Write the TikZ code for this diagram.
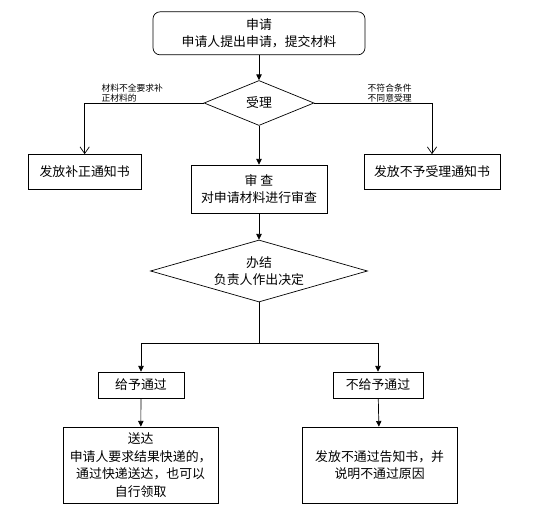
\documentclass[tikz,border=0pt]{standalone}
\usepackage{fontspec}
\setmainfont{Noto Sans CJK SC}
\usetikzlibrary{arrows.meta,shapes.geometric}

\begin{document}
\begin{tikzpicture}[
  font=\fontsize{11}{15}\selectfont,
  line width=0.6pt,
  box/.style={draw, align=center, inner sep=1pt},
  choice/.style={draw, diamond, align=center, inner sep=0pt},
  cond/.style={font=\fontsize{7.5}{8.5}\selectfont, align=left, inner sep=0.6pt},
  arr/.style={-{Triangle[length=1.7mm,width=1.6mm]}},
  openarr/.style={-{Straight Barb[length=2mm,width=2.8mm]}}
]
  \useasboundingbox (0,0) rectangle (16.62,-15.39);

  \draw (7.77,-1.0) node[box, rounded corners=6pt, minimum width=6.36cm, minimum height=1.29cm] (shenqing) {申请\\申请人提出申请，提交材料};
  \draw (7.77,-3.09) node[choice, aspect=2.4, minimum width=3.3cm, minimum height=1.35cm] (shouli) {受理};
  \draw (2.54,-5.16) node[box, minimum width=3.39cm, minimum height=1.05cm] (buzheng) {发放补正通知书};
  \draw (12.96,-5.16) node[box, minimum width=4.08cm, minimum height=1.05cm] (buyu) {发放不予受理通知书};
  \draw (7.77,-5.67) node[box, minimum width=4.08cm, minimum height=1.44cm] (shencha) {审\ 查\\对申请材料进行审查};
  \draw (7.77,-8.13) node[choice, aspect=3.5, minimum width=6.51cm, minimum height=1.86cm] (banjie) {办结\\负责人作出决定};
  \draw (4.23,-11.55) node[box, minimum width=2.58cm, minimum height=0.78cm] (tongguo) {给予通过};
  \draw (11.34,-11.55) node[box, minimum width=2.7cm, minimum height=0.78cm] (butongguo) {不给予通过};
  \draw (4.22,-13.95) node[box, minimum width=4.65cm, minimum height=2.28cm] (songda) {送达\\申请人要求结果快递的，\\通过快递送达，也可以\\自行领取};
  \draw (11.39,-13.95) node[box, minimum width=4.65cm, minimum height=2.28cm] (gaozhi) {发放不通过告知书，并\\说明不通过原因};
  \coordinate (fencha) at (7.77,-10.29);

  \draw[arr] (shenqing) -- (shouli);
  \draw[openarr] (shouli.west) -| node[pos=0.3, above, cond] {材料不全要求补\\正材料的} (buzheng.north);
  \draw[openarr] (shouli.east) -| node[pos=0.32, above, cond] {不符合条件\\不同意受理} (buyu.north);
  \draw[arr] (shouli) -- (shencha);
  \draw[arr] (shencha) -- (banjie);
  \draw (banjie.south) -- (fencha);
  \draw[arr] (fencha) -| (tongguo.north);
  \draw[arr] (fencha) -| (butongguo.north);
  \draw[arr] (tongguo) -- (songda);
  \draw[arr] (butongguo) -- (gaozhi);
\end{tikzpicture}
\end{document}
